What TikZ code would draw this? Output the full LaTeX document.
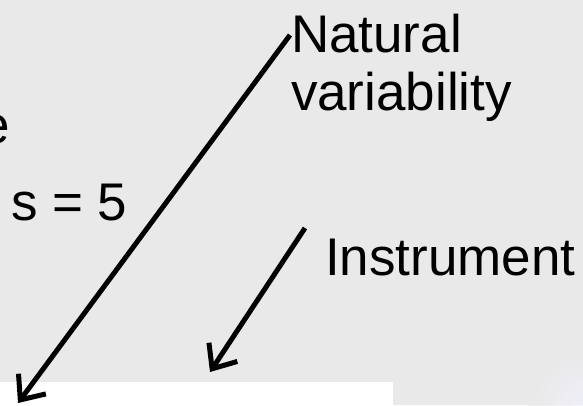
\documentclass[tikz,border=0pt]{standalone}
\usepackage{fontspec}
\setmainfont{Liberation Sans}
\usetikzlibrary{arrows.meta}
\definecolor{bggray}{HTML}{E9E9E9}
\tikzset{
  lbl/.style={anchor=base west, inner sep=0pt, outer sep=0pt, font=\fontsize{53}{58}\selectfont, text=black},
  bigarrow/.style={line width=5pt, black, -{Straight Barb[length=20pt, width=34pt, line width=5pt]}},
}
\begin{document}
\begin{tikzpicture}[x=1pt,y=-1pt]
\useasboundingbox (0,0) rectangle (583,405);
\clip (0,0) rectangle (583,405);
\fill[bggray] (0,0) rectangle (583,405);
\shade[inner color=blue!5!white, outer color=bggray, opacity=0.7] (583,405) circle (55);
\fill[white] (0,382) rectangle (393,405);
% texts
\node[lbl] (e) at (-19,143) {e};
\node[lbl] (s) at (11,220) {s = 5};
\node[lbl] (nat) at (291,52) {Natural};
\node[lbl] (var) at (291,110) {variability};
\node[lbl] (ins) at (325,275) {Instrument};
% arrows
\coordinate (a1s) at (290,35);
\coordinate (a1e) at (18,403);
\coordinate (a2s) at (305,228);
\coordinate (a2e) at (210,372);
\draw[bigarrow] (a1s) -- (a1e);
\draw[bigarrow] (a2s) -- (a2e);
\end{tikzpicture}
\end{document}
